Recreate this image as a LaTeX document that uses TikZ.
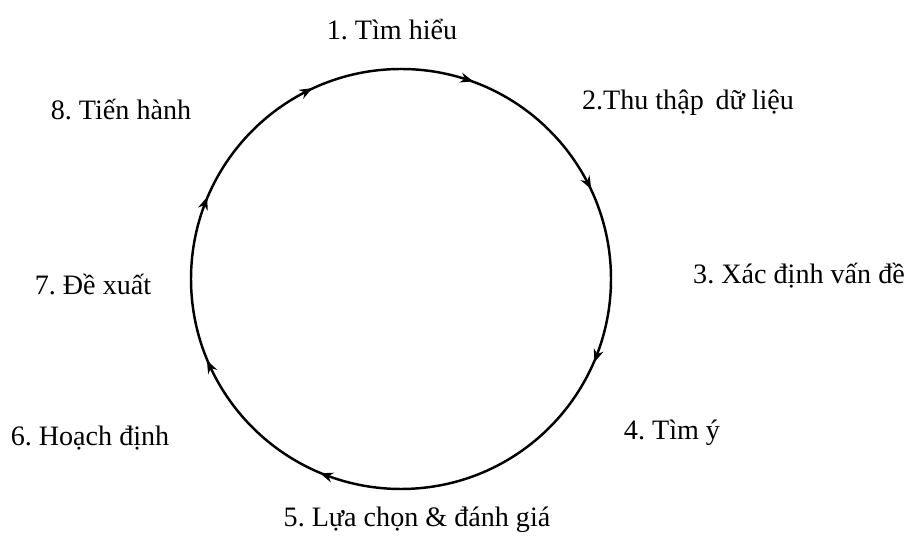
\documentclass[tikz,border=0pt]{standalone}
\usepackage{fontspec}
\setmainfont{Liberation Serif}
\usetikzlibrary{decorations.markings,arrows.meta}
\frenchspacing

\begin{document}
\begin{tikzpicture}[
        x=0.02cm,
        y=0.02cm,
        every node/.style={font=\fontsize{16}{19}\selectfont},
        stage/.style={
            inner sep=1pt,
            anchor=center
        },
        ring/.style={
            line width=1.4pt,
            postaction={decorate},
            decoration={markings,
                mark=at position 0.080 with {\arrow{Stealth[length=2.6mm,width=2mm,reversed]}},
                mark=at position 0.204 with {\arrow{Stealth[length=2.6mm,width=2mm,reversed]}},
                mark=at position 0.329 with {\arrow{Stealth[length=2.6mm,width=2mm,reversed]}},
                mark=at position 0.446 with {\arrow{Stealth[length=2.6mm,width=2mm,reversed]}},
                mark=at position 0.573 with {\arrow{Stealth[length=2.6mm,width=2mm,reversed]}},
                mark=at position 0.697 with {\arrow{Stealth[length=2.6mm,width=2mm,reversed]}},
                mark=at position 0.945 with {\arrow{Stealth[length=2.6mm,width=2mm,reversed]}}
            }
        }
    ]
    \useasboundingbox (0,0) rectangle (912,550);

    % Cycle
    \coordinate (c) at (401,271);
    \draw[ring] (c) circle[radius=210];

    % Stages
    \node[stage] (s1) at (392,520) {1. Tìm hiểu};
    \node[stage] (s2) at (688,447) {2.Thu thập\, dữ liệu};
    \node[stage] (s3) at (799,274) {3. Xác định vấn đề};
    \node[stage] (s4) at (672,117) {4. Tìm ý};
    \node[stage] (s5) at (417,30) {5. Lựa chọn \& đánh giá};
    \node[stage] (s6) at (90,112) {6. Hoạch định};
    \node[stage] (s7) at (93,265) {7. Đề xuất};
    \node[stage] (s8) at (121,440) {8. Tiến hành};

\end{tikzpicture}
\end{document}
